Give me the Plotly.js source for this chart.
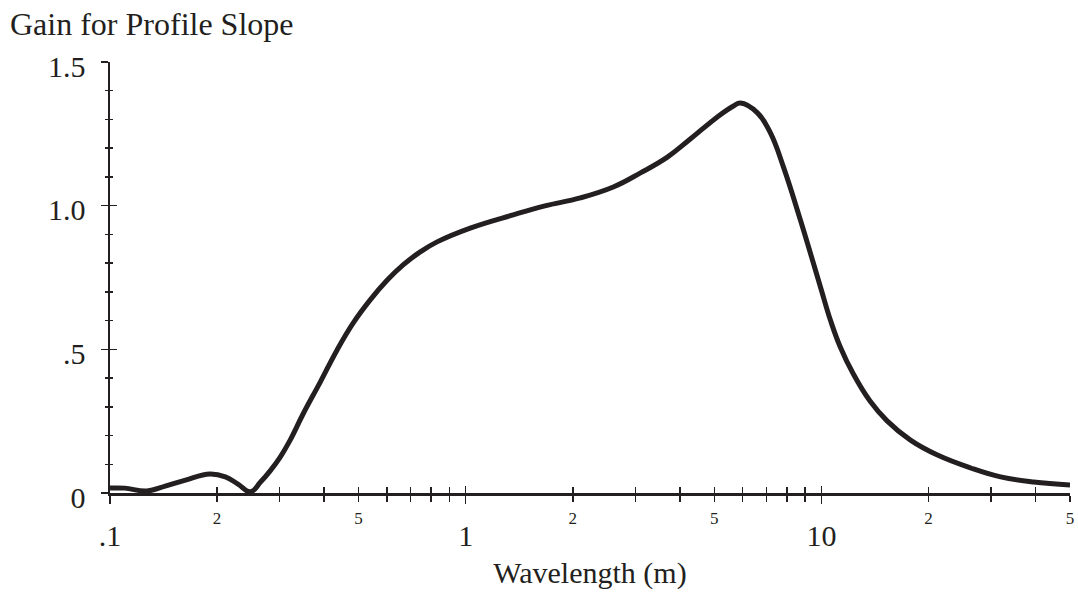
<!DOCTYPE html>
<html>
<head>
<meta charset="utf-8">
<script src="https://cdn.plot.ly/plotly-3.0.1.min.js"></script>
<style>html,body{margin:0;padding:0;background:#fff;}#chart{width:1078px;height:597px;}</style>
</head>
<body>
<div id="chart"></div>
<script>
// Wavelength (m) and gain
const wavelength = [0.1, 0.110, 0.127, 0.143, 0.163, 0.191, 0.211, 0.229, 0.248, 0.265, 0.282, 0.301, 0.321, 0.349, 0.390, 0.435, 0.483, 0.539, 0.602, 0.667, 0.745, 0.831, 1.03, 1.36, 1.67, 2.10, 2.60, 3.10, 3.69, 4.28, 5.10, 5.66, 5.92, 6.61, 7.19, 7.82, 8.73, 9.94, 10.6, 11.3, 12.3, 13.7, 15.3, 17.8, 21.2, 26.3, 31.9, 39.5, 50];
const gain = [0.017, 0.017, 0.007, 0.024, 0.045, 0.066, 0.056, 0.031, 0.004, 0.038, 0.077, 0.125, 0.184, 0.275, 0.386, 0.498, 0.592, 0.672, 0.741, 0.794, 0.839, 0.874, 0.922, 0.968, 0.999, 1.027, 1.065, 1.114, 1.169, 1.232, 1.309, 1.347, 1.357, 1.323, 1.253, 1.135, 0.950, 0.717, 0.602, 0.508, 0.414, 0.320, 0.251, 0.184, 0.132, 0.087, 0.056, 0.038, 0.028];

const decadeTicks = [0.1, 1, 10];
const decadeLabels = ['.1', '1', '10'];
const minorXTicks = [0.2, 0.3, 0.4, 0.5, 0.6, 0.7, 0.8, 0.9, 2, 3, 4, 5, 6, 7, 8, 9, 20, 30, 40, 50];
const minorXLabels = ['2', '', '', '5', '', '', '', '', '2', '', '', '5', '', '', '', '', '2', '', '', '5'];
const yTicks = [0, 0.5, 1.0, 1.5];
const yLabels = ['0', '.5', '1.0', '1.5'];
const yMinorTicks = [0.1, 0.2, 0.3, 0.4, 0.6, 0.7, 0.8, 0.9, 1.1, 1.2, 1.3, 1.4];

const ink = '#231f20';
const serif = 'Liberation Serif, Times New Roman, serif';
const xRange = [-1, Math.log10(50)];

const traces = [
  {x: wavelength, y: gain, type: 'scatter', mode: 'lines', xaxis: 'x', yaxis: 'y',
   line: {color: ink, width: 5, shape: 'spline', smoothing: 1.2}, hoverinfo: 'x+y', showlegend: false},
  // carriers so the overlaid tick axes are drawn (no marks)
  {x: wavelength, y: gain, type: 'scatter', mode: 'none', xaxis: 'x2', yaxis: 'y', hoverinfo: 'skip', showlegend: false},
  {x: wavelength, y: gain, type: 'scatter', mode: 'none', xaxis: 'x3', yaxis: 'y', hoverinfo: 'skip', showlegend: false},
  {x: wavelength, y: gain, type: 'scatter', mode: 'none', xaxis: 'x', yaxis: 'y2', hoverinfo: 'skip', showlegend: false}
];

const layout = {
  width: 1078, height: 597,
  margin: {l: 110, r: 8, t: 62, b: 104},
  paper_bgcolor: '#fff', plot_bgcolor: '#fff',
  font: {family: serif, color: ink},
  showlegend: false,
  title: {text: 'Gain for Profile Slope', font: {size: 32, family: serif, color: ink},
          x: 10/1078, xanchor: 'left', xref: 'container', y: 1 - 24/597, yanchor: 'middle', yref: 'container'},
  xaxis: {
    type: 'log', range: xRange, showgrid: false, zeroline: false,
    showline: true, linecolor: ink, linewidth: 2.5,
    tickmode: 'array', tickvals: decadeTicks, ticktext: decadeLabels,
    ticks: 'outside', ticklen: 8, tickwidth: 1.5, tickcolor: ink,
    tickfont: {size: 30, family: serif, color: ink}, ticklabelstandoff: 6,
    minor: {tickmode: 'array', tickvals: minorXTicks, ticks: 'outside', ticklen: 6, tickwidth: 1.5, tickcolor: ink, showgrid: false},
    title: {text: 'Wavelength (m)', font: {size: 30, family: serif, color: ink}, standoff: 12},
    fixedrange: true
  },
  xaxis2: {
    type: 'log', range: xRange, overlaying: 'x', anchor: 'y', side: 'bottom',
    showgrid: false, zeroline: false, showline: false,
    tickmode: 'array', tickvals: minorXTicks, ticktext: minorXLabels,
    ticks: '', tickfont: {size: 17, family: serif, color: ink}, ticklabelstandoff: 13,
    fixedrange: true
  },
  xaxis3: {
    type: 'log', range: xRange, overlaying: 'x', anchor: 'y', side: 'bottom',
    showgrid: false, zeroline: false, showline: false, showticklabels: false,
    tickmode: 'array', tickvals: decadeTicks,
    ticks: 'inside', ticklen: 7, tickwidth: 1.5, tickcolor: ink,
    minor: {tickmode: 'array', tickvals: minorXTicks, ticks: 'inside', ticklen: 6, tickwidth: 1.5, tickcolor: ink, showgrid: false},
    fixedrange: true
  },
  yaxis: {
    range: [0, 1.5], showgrid: false, zeroline: false,
    showline: true, linecolor: ink, linewidth: 2.5,
    tickmode: 'array', tickvals: yTicks, ticktext: yLabels,
    ticks: 'outside', ticklen: 7, tickwidth: 1.5, tickcolor: ink,
    tickfont: {size: 30, family: serif, color: ink}, ticklabelstandoff: 9, ticklabelshift: 4,
    minor: {tickmode: 'array', tickvals: yMinorTicks, ticks: 'outside', ticklen: 3, tickwidth: 1.5, tickcolor: ink, showgrid: false},
    fixedrange: true
  },
  yaxis2: {
    range: [0, 1.5], overlaying: 'y', anchor: 'x', side: 'left',
    showgrid: false, zeroline: false, showline: false, showticklabels: false,
    tickmode: 'array', tickvals: yTicks,
    ticks: 'inside', ticklen: 7, tickwidth: 1.5, tickcolor: ink,
    minor: {tickmode: 'array', tickvals: yMinorTicks, ticks: 'inside', ticklen: 3, tickwidth: 1.5, tickcolor: ink, showgrid: false},
    fixedrange: true
  }
};

Plotly.newPlot('chart', traces, layout, {displayModeBar: false, staticPlot: true});
</script>
</body>
</html>
